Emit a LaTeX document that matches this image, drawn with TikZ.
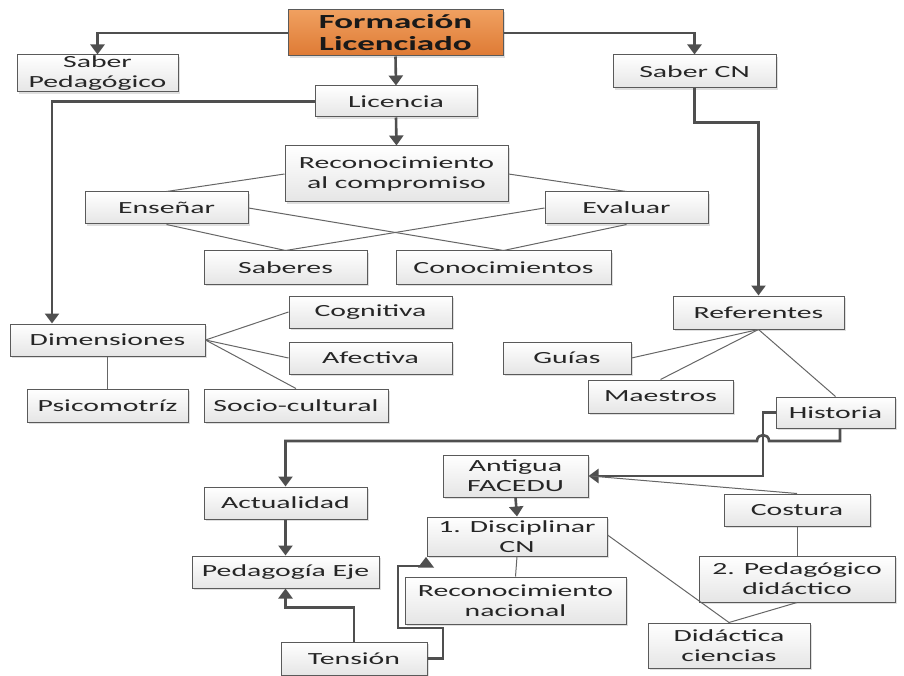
\documentclass[tikz,border=0pt]{standalone}
\usepackage{fontspec}
\setmainfont{Carlito}[FakeStretch=1.75]
\usetikzlibrary{arrows.meta,shadows,calc}
\definecolor{lnc}{HTML}{4F4F4F}
\definecolor{thinc}{HTML}{666666}
\definecolor{boxb}{HTML}{5A5A5A}
\definecolor{orangeA}{HTML}{F0A060}
\definecolor{orangeB}{HTML}{DE7A34}
\begin{document}
\begin{tikzpicture}[x=1pt,y=-1pt,
  box/.style={draw=boxb, line width=1pt, top color=white, bottom color=gray!20,
    drop shadow={opacity=0.25,shadow xshift=2pt,shadow yshift=-2pt},
    inner sep=0pt, align=center, font=\fontsize{17}{20}\selectfont, text=black!85},
  titlebox/.style={box, top color=orangeA, bottom color=orangeB, font=\fontsize{20}{22}\selectfont\bfseries, text=black!90},
  arr/.style={draw=lnc, line width=2.6pt, -{Triangle[width=14pt,length=10pt]}},
  thin/.style={draw=thinc, line width=1pt}]
\useasboundingbox (0,0) rectangle (904,676);

% nodes
\node[titlebox, minimum width=215pt, minimum height=46pt] (title) at (395.5,33) {Formación\\Licenciado};
\node[box, minimum width=161pt, minimum height=37pt] (sabped) at (97.5,73.5) {Saber\\Pedagógico};
\node[box, minimum width=162pt, minimum height=31pt] (licencia) at (396,101.5) {Licencia};
\node[box, minimum width=163pt, minimum height=33pt] (sabercn) at (694.5,71.5) {Saber CN};
\node[box, minimum width=223pt, minimum height=56pt] (recon) at (396.5,174) {Reconocimiento\\al compromiso};
\node[box, minimum width=163pt, minimum height=32pt] (ensenar) at (166.5,208) {Enseñar};
\node[box, minimum width=163pt, minimum height=32pt] (evaluar) at (626.5,208) {Evaluar};
\node[box, minimum width=163pt, minimum height=33pt] (saberes) at (285.5,267.5) {Saberes};
\node[box, minimum width=215pt, minimum height=33pt] (conoc) at (503.5,267.5) {Conocimientos};
\node[box, minimum width=195pt, minimum height=32pt] (dimens) at (107.5,340) {Dimensiones};
\node[box, minimum width=163pt, minimum height=32pt] (cognit) at (370.5,312) {Cognitiva};
\node[box, minimum width=163pt, minimum height=32pt] (afect) at (370.5,358) {Afectiva};
\node[box, minimum width=161pt, minimum height=33pt] (psico) at (107.5,405.5) {Psicomotríz};
\node[box, minimum width=184pt, minimum height=33pt] (socio) at (296,405.5) {Socio-cultural};
\node[box, minimum width=171pt, minimum height=33pt] (refer) at (758.5,312.5) {Referentes};
\node[box, minimum width=128pt, minimum height=32pt] (guias) at (567,358) {Guías};
\node[box, minimum width=145pt, minimum height=33pt] (maestros) at (660.5,396.5) {Maestros};
\node[box, minimum width=119pt, minimum height=31pt] (historia) at (835.5,412.5) {Historia};
\node[box, minimum width=145pt, minimum height=42pt] (antigua) at (515.5,476) {Antigua\\FACEDU};
\node[box, minimum width=180pt, minimum height=39pt] (discip) at (517,536.5) {1. Disciplinar\\CN};
\node[box, minimum width=221pt, minimum height=47pt] (reconnac) at (515.5,600.5) {Reconocimiento\\nacional};
\node[box, minimum width=146pt, minimum height=32pt] (costura) at (797,510) {Costura};
\node[box, minimum width=196pt, minimum height=46pt] (pedag) at (797,579) {2. Pedagógico\\didáctico};
\node[box, minimum width=162pt, minimum height=45pt] (didac) at (729,645.5) {Didáctica\\ciencias};
\node[box, minimum width=163pt, minimum height=32pt] (actual) at (285.5,503) {Actualidad};
\node[box, minimum width=187pt, minimum height=32pt] (pedeje) at (285.5,572) {Pedagogía Eje};
\node[box, minimum width=146pt, minimum height=33pt] (tension) at (354,658.5) {Tensión};

% thick connectors
\draw[arr] (title.west) -| (sabped.north);
\draw[arr] (title.south) -- (licencia.north);
\draw[arr] (title.east) -| (sabercn.north);
\draw[arr] (licencia.west) -| ([xshift=-55.5pt]dimens.north);
\draw[arr] (licencia.south) -- (recon.north);
\draw[arr] (sabercn.south) -- ++(0,34) -| (refer.north);
\coordinate (hA) at (769,441);
\coordinate (hB) at (757,441);
\draw[arr] ([xshift=4.5pt]historia.south) |- (hA) .. controls (769,433) and (757,433) .. (hB) -| (actual.north);
\coordinate (hC) at (763,412.5);
\draw[arr] (historia.west) -- (hC) |- (antigua.east);
\draw[arr] (antigua.south) -- (discip.north);
\draw[arr] (actual.south) -- (pedeje.north);
\draw[arr] (tension.north) -- ++(0,-34) -| (pedeje.south);
\coordinate (t1) at (443,628);
\coordinate (t2) at (398,566);
\coordinate (t3) at (426,566);
\coordinate (t4) at ([xshift=-91pt]discip.south);
\draw[draw=lnc, line width=2.2pt] (tension.east) -| (t1) -| (t2) -- (t3);
\fill[lnc] ($(t3)+(-8,1.5)$) -- ($(t3)+(8,1.5)$) -- ($(t4)+(0,0.5)$) -- cycle;

% thin connectors
\draw[thin] (recon.west) -- (ensenar.north);
\draw[thin] (recon.east) -- (evaluar.north);
\draw[thin] (ensenar.east) -- (conoc.north);
\draw[thin] (ensenar.south) -- (saberes.north);
\draw[thin] (evaluar.west) -- (saberes.north);
\draw[thin] (evaluar.south) -- (conoc.north);
\draw[thin] (dimens.east) -- (cognit.west);
\draw[thin] (dimens.east) -- (afect.west);
\draw[thin] (dimens.east) -- (socio.north);
\draw[thin] (dimens.south) -- (psico.north);
\draw[thin] (refer.south) -- (guias.east);
\draw[thin] (refer.south) -- (maestros.north);
\draw[thin] (refer.south) -- (historia.north);
\draw[thin] (costura.north) -- ([xshift=2pt]antigua.east);
\draw[thin] (discip.south) -- (reconnac.north);
\draw[thin] ([yshift=1.5pt]discip.east) -- (didac.north);
\draw[thin] (costura.south) -- (pedag.north);
\draw[thin] (pedag.south) -- (didac.north);
\end{tikzpicture}
\end{document}
